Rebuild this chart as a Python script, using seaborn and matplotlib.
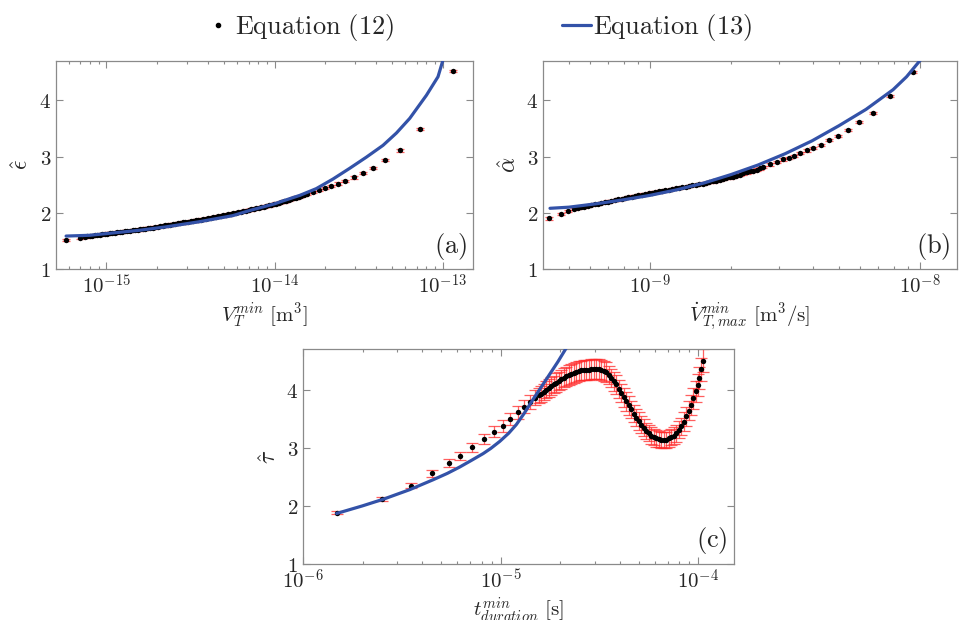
import numpy as np
import pandas as pd
import seaborn as sns
import matplotlib.pyplot as plt
from matplotlib.lines import Line2D
from matplotlib.ticker import FuncFormatter, FixedLocator, NullFormatter

# ---------------- data ----------------
# panel (a): log10 of V_T^min [m^3] and eps_hat, with red error bars
a_logx = [-15.24, -15.16,
          -15.130, -15.115, -15.100, -15.085, -15.070, -15.055, -15.040, -15.025, -15.010, -14.995,
          -14.980, -14.965, -14.950, -14.935, -14.920, -14.905, -14.890, -14.875, -14.860, -14.845,
          -14.830, -14.815, -14.800, -14.785, -14.770, -14.755, -14.740, -14.725, -14.710, -14.695,
          -14.680, -14.665, -14.650, -14.635, -14.620, -14.605, -14.590, -14.575, -14.560, -14.545,
          -14.530, -14.515, -14.500, -14.485, -14.470, -14.455, -14.440, -14.425, -14.410, -14.395,
          -14.380, -14.365, -14.350, -14.335, -14.320, -14.305, -14.290, -14.275, -14.260, -14.245,
          -14.230, -14.215, -14.200, -14.185, -14.170, -14.155, -14.140, -14.125, -14.110, -14.095,
          -14.080, -14.065, -14.050, -14.035, -14.020, -14.005, -13.990, -13.975, -13.960, -13.945,
          -13.930, -13.915, -13.900, -13.885, -13.870, -13.855, -13.840, -13.825, -13.810,
          -13.772, -13.736, -13.70, -13.663, -13.623, -13.58, -13.53, -13.474, -13.415, -13.345,
          -13.256, -13.133, -12.94]
a_y = [1.515, 1.56,
       1.575, 1.58, 1.585, 1.592, 1.60, 1.605, 1.61, 1.618, 1.625, 1.63,
       1.635, 1.64, 1.645, 1.652, 1.66, 1.665, 1.67, 1.675, 1.68, 1.688,
       1.695, 1.70, 1.705, 1.712, 1.72, 1.725, 1.73, 1.738, 1.745, 1.752,
       1.76, 1.768, 1.775, 1.782, 1.79, 1.798, 1.805, 1.812, 1.82, 1.828,
       1.835, 1.842, 1.85, 1.858, 1.865, 1.872, 1.88, 1.888, 1.895, 1.902,
       1.91, 1.92, 1.93, 1.938, 1.945, 1.952, 1.96, 1.97, 1.98, 1.99,
       2.00, 2.01, 2.02, 2.03, 2.04, 2.05, 2.06, 2.07, 2.08, 2.09,
       2.10, 2.11, 2.12, 2.13, 2.14, 2.152, 2.165, 2.178, 2.19, 2.202,
       2.215, 2.23, 2.245, 2.258, 2.27, 2.285, 2.30, 2.315, 2.33,
       2.37, 2.40, 2.44, 2.48, 2.52, 2.57, 2.63, 2.71, 2.80, 2.94,
       3.11, 3.49, 4.52]
a_err = 0.02
a_fit_logx = [-15.24, -15.10, -15.0, -14.80, -14.645, -14.45, -14.248, -14.149, -14.0, -13.951,
              -13.85, -13.752, -13.653, -13.554, -13.454, -13.355, -13.275, -13.196, -13.097,
              -13.028, -13.002, -12.992]
a_fit_y = [1.586, 1.60, 1.63, 1.69, 1.75, 1.84, 1.95, 2.04, 2.16, 2.21,
           2.31, 2.43, 2.60, 2.79, 2.99, 3.20, 3.42, 3.68, 4.09,
           4.42, 4.68, 4.80]

# panel (b): log10 of Vdot_T,max^min [m^3/s] and alpha_hat
b_logx = [-9.373, -9.331, -9.302,
          -9.2800, -9.2675, -9.2550, -9.2425, -9.2300, -9.2175, -9.2050, -9.1925, -9.1800, -9.1675,
          -9.1550, -9.1425, -9.1300, -9.1175, -9.1050, -9.0925, -9.0800, -9.0675, -9.0550, -9.0425,
          -9.0300, -9.0175, -9.0050, -8.9925, -8.9800, -8.9675, -8.9550, -8.9425, -8.9300, -8.9175,
          -8.9050, -8.8925, -8.8800, -8.8675, -8.8550, -8.8425, -8.8300, -8.8175, -8.8050, -8.7925,
          -8.7800, -8.7675, -8.7550, -8.7425, -8.7300, -8.7175, -8.7050, -8.6925, -8.6800, -8.6675,
          -8.6550, -8.6425, -8.6300, -8.6175, -8.6050, -8.5925, -8.5800,
          -8.556, -8.531, -8.506, -8.484, -8.467, -8.444, -8.42, -8.395, -8.367, -8.336,
          -8.302, -8.265, -8.225, -8.173, -8.111, -8.025]
b_y = [1.90, 1.98, 2.03,
       2.07, 2.085, 2.10, 2.112, 2.125, 2.138, 2.15, 2.162, 2.175, 2.188,
       2.20, 2.212, 2.225, 2.238, 2.25, 2.262, 2.275, 2.288, 2.30, 2.312,
       2.325, 2.338, 2.35, 2.36, 2.37, 2.38, 2.39, 2.40, 2.41, 2.422,
       2.435, 2.445, 2.455, 2.465, 2.475, 2.488, 2.50, 2.51, 2.52, 2.532,
       2.545, 2.558, 2.57, 2.585, 2.60, 2.615, 2.63, 2.645, 2.66, 2.68,
       2.70, 2.718, 2.735, 2.752, 2.77, 2.79, 2.81,
       2.86, 2.91, 2.95, 2.98, 3.01, 3.06, 3.11, 3.15, 3.21, 3.29,
       3.36, 3.47, 3.61, 3.78, 4.08, 4.50]
b_err = 0.02
b_fit_logx = [-9.37, -9.30, -9.20, -9.10, -9.0, -8.90, -8.80, -8.70, -8.60, -8.50,
              -8.40, -8.30, -8.20, -8.10, -8.05, -8.0]
b_fit_y = [2.08, 2.10, 2.16, 2.23, 2.31, 2.41, 2.53, 2.68, 2.85, 3.05,
           3.28, 3.55, 3.84, 4.19, 4.42, 4.71]

# panel (c): log10 of t_duration^min [s] and tau_hat
c_logx = [-5.827, -5.603, -5.456, -5.35, -5.261, -5.207, -5.143, -5.084, -5.035, -4.991,
          -4.951, -4.913, -4.884, -4.854, -4.825, -4.808, -4.794, -4.781, -4.769, -4.756,
          -4.744, -4.731, -4.719, -4.706, -4.693, -4.681, -4.668, -4.655, -4.643, -4.630,
          -4.618, -4.605, -4.592, -4.580, -4.567, -4.555, -4.542, -4.530, -4.517, -4.504,
          -4.491, -4.479, -4.466, -4.454, -4.441, -4.429, -4.416, -4.403, -4.390, -4.378,
          -4.365, -4.353, -4.340, -4.328, -4.315, -4.302, -4.289, -4.277, -4.264, -4.252,
          -4.239, -4.227, -4.214, -4.201, -4.188, -4.176, -4.163, -4.151, -4.138, -4.126,
          -4.113, -4.100, -4.087, -4.075, -4.062, -4.050, -4.037, -4.025, -4.012, -4.004,
          -3.995, -3.987, -3.978]
c_y = [1.88, 2.12, 2.35, 2.56, 2.74, 2.86, 3.01, 3.15, 3.28, 3.38,
       3.50, 3.61, 3.71, 3.78, 3.86, 3.90, 3.93, 3.965, 4.00, 4.03,
       4.06, 4.09, 4.12, 4.15, 4.18, 4.205, 4.23, 4.25, 4.27, 4.285,
       4.30, 4.315, 4.33, 4.335, 4.34, 4.345, 4.35, 4.355, 4.36, 4.35,
       4.34, 4.32, 4.30, 4.25, 4.20, 4.145, 4.09, 4.015, 3.94, 3.87,
       3.80, 3.73, 3.66, 3.59, 3.52, 3.46, 3.40, 3.345, 3.29, 3.25,
       3.21, 3.185, 3.16, 3.15, 3.14, 3.14, 3.14, 3.16, 3.18, 3.21,
       3.25, 3.31, 3.37, 3.45, 3.54, 3.64, 3.74, 3.85, 3.97, 4.08,
       4.20, 4.35, 4.50]
c_err = [0.025, 0.035, 0.05, 0.06, 0.07, 0.075, 0.08, 0.09, 0.09, 0.10,
         0.10, 0.11, 0.11, 0.12, 0.13, 0.13, 0.14, 0.14, 0.15, 0.15,
         0.15, 0.15, 0.16, 0.16, 0.16, 0.16, 0.16, 0.17, 0.17, 0.17,
         0.17, 0.17, 0.17, 0.17, 0.17, 0.17, 0.17, 0.17, 0.17, 0.17,
         0.17, 0.17, 0.17, 0.16, 0.16, 0.16, 0.16, 0.16, 0.16, 0.16,
         0.16, 0.16, 0.15, 0.15, 0.15, 0.15, 0.15, 0.15, 0.14, 0.14,
         0.14, 0.14, 0.14, 0.14, 0.14, 0.14, 0.14, 0.14, 0.14, 0.14,
         0.15, 0.15, 0.15, 0.16, 0.16, 0.17, 0.17, 0.18, 0.18, 0.19,
         0.19, 0.20, 0.20]
c_fit_logx = [-5.83, -5.70, -5.594, -5.46, -5.342, -5.27, -5.207, -5.15, -5.089, -5.05,
              -5.005, -4.96, -4.921, -4.88, -4.837, -4.80, -4.769, -4.711, -4.668]
c_fit_y = [1.87, 2.00, 2.115, 2.28, 2.45, 2.56, 2.67, 2.78, 2.90, 2.99,
           3.11, 3.25, 3.40, 3.60, 3.83, 4.02, 4.18, 4.48, 4.72]

panels = [
    dict(x=a_logx, y=a_y, err=a_err, fx=a_fit_logx, fy=a_fit_y, xlim=(-15.30, -12.82),
         ylab=r'$\hat{\epsilon}$', xlab=r'$V_T^{min}\ \mathrm{[m^3]}$', tag='(a)',
         pos=[0.0584, 0.5661, 0.4348, 0.3355], cap=3.2),
    dict(x=b_logx, y=b_y, err=b_err, fx=b_fit_logx, fy=b_fit_y, xlim=(-9.396, -7.863),
         ylab=r'$\hat{\alpha}$', xlab=r'$\dot{V}_{T,max}^{min}\ \mathrm{[m^3/s]}$', tag='(b)',
         pos=[0.5662, 0.5661, 0.4318, 0.3355], cap=3.2),
    dict(x=c_logx, y=c_y, err=c_err, fx=c_fit_logx, fy=c_fit_y, xlim=(-6.0, -3.82),
         ylab=r'$\hat{\tau}$', xlab=r'$t_{duration}^{min}\ \mathrm{[s]}$', tag='(c)',
         pos=[0.316, 0.0903, 0.4494, 0.3468], cap=4.0),
]

sns.set_style('ticks')
plt.rcParams['mathtext.fontset'] = 'cm'
blue = '#3352a8'
red = '#ff2a2a'
grey = '#8a8a8a'

fig = plt.figure(figsize=(9.59, 6.2), dpi=100)

for p in panels:
    ax = fig.add_axes(p['pos'])
    df = pd.DataFrame({'x': 10 ** np.array(p['x']), 'y': p['y']})
    fit = pd.DataFrame({'x': 10 ** np.array(p['fx']), 'y': p['fy']})
    ax.errorbar(df['x'], df['y'], yerr=p['err'], fmt='none', ecolor=red, alpha=0.75,
                elinewidth=0.9, capsize=p['cap'], capthick=0.9, zorder=1)
    sns.scatterplot(data=df, x='x', y='y', ax=ax, color='black', s=15, linewidth=0, zorder=2)
    sns.lineplot(data=fit, x='x', y='y', ax=ax, color=blue, lw=2.3, sort=False,
                 estimator=None, zorder=3)
    ax.set_xscale('log')
    lo, hi = p['xlim']
    ax.set_xlim(10 ** lo, 10 ** hi)
    ax.set_ylim(1, 4.7)
    decades = np.arange(np.ceil(lo), np.floor(hi) + 1)
    minors = [m * 10 ** d for d in np.arange(np.floor(lo), np.ceil(hi)) for m in range(2, 10)
              if lo <= np.log10(m * 10 ** d) <= hi]
    ax.xaxis.set_major_locator(FixedLocator(10 ** decades))
    ax.xaxis.set_minor_locator(FixedLocator(minors))
    ax.xaxis.set_minor_formatter(NullFormatter())
    ax.xaxis.set_major_formatter(FuncFormatter(lambda v, pos: r'$10^{%d}$' % round(np.log10(v))))
    ax.yaxis.set_major_locator(FixedLocator([1, 2, 3, 4]))
    ax.yaxis.set_major_formatter(FuncFormatter(lambda v, pos: r'$%d$' % v))
    ax.tick_params(which='both', direction='in', top=True, right=True, color=grey,
                   labelsize=15, width=0.8)
    ax.tick_params(which='major', length=5)
    ax.tick_params(which='minor', length=2.5)
    for s in ax.spines.values():
        s.set_color(grey)
        s.set_linewidth(0.9)
    ax.set_xlabel(p['xlab'], fontsize=15, labelpad=2)
    ax.set_ylabel(p['ylab'], fontsize=17, labelpad=4)
    ax.text(0.985, 0.035, r'$\mathrm{%s}$' % p['tag'], transform=ax.transAxes,
            ha='right', va='bottom', fontsize=19)

handles = [Line2D([], [], marker='.', color='black', linestyle='none', markersize=6),
           Line2D([], [], color=blue, lw=2.3)]
fig.legend(handles, [r'$\mathrm{Equation\ (12)}$', r'$\mathrm{Equation\ (13)}$'],
           loc='center', bbox_to_anchor=(0.4984, 0.956), ncol=2, frameon=False,
           fontsize=19, handlelength=1.1, handletextpad=0.1, columnspacing=6.35)

fig.savefig('out.png', dpi=100)
